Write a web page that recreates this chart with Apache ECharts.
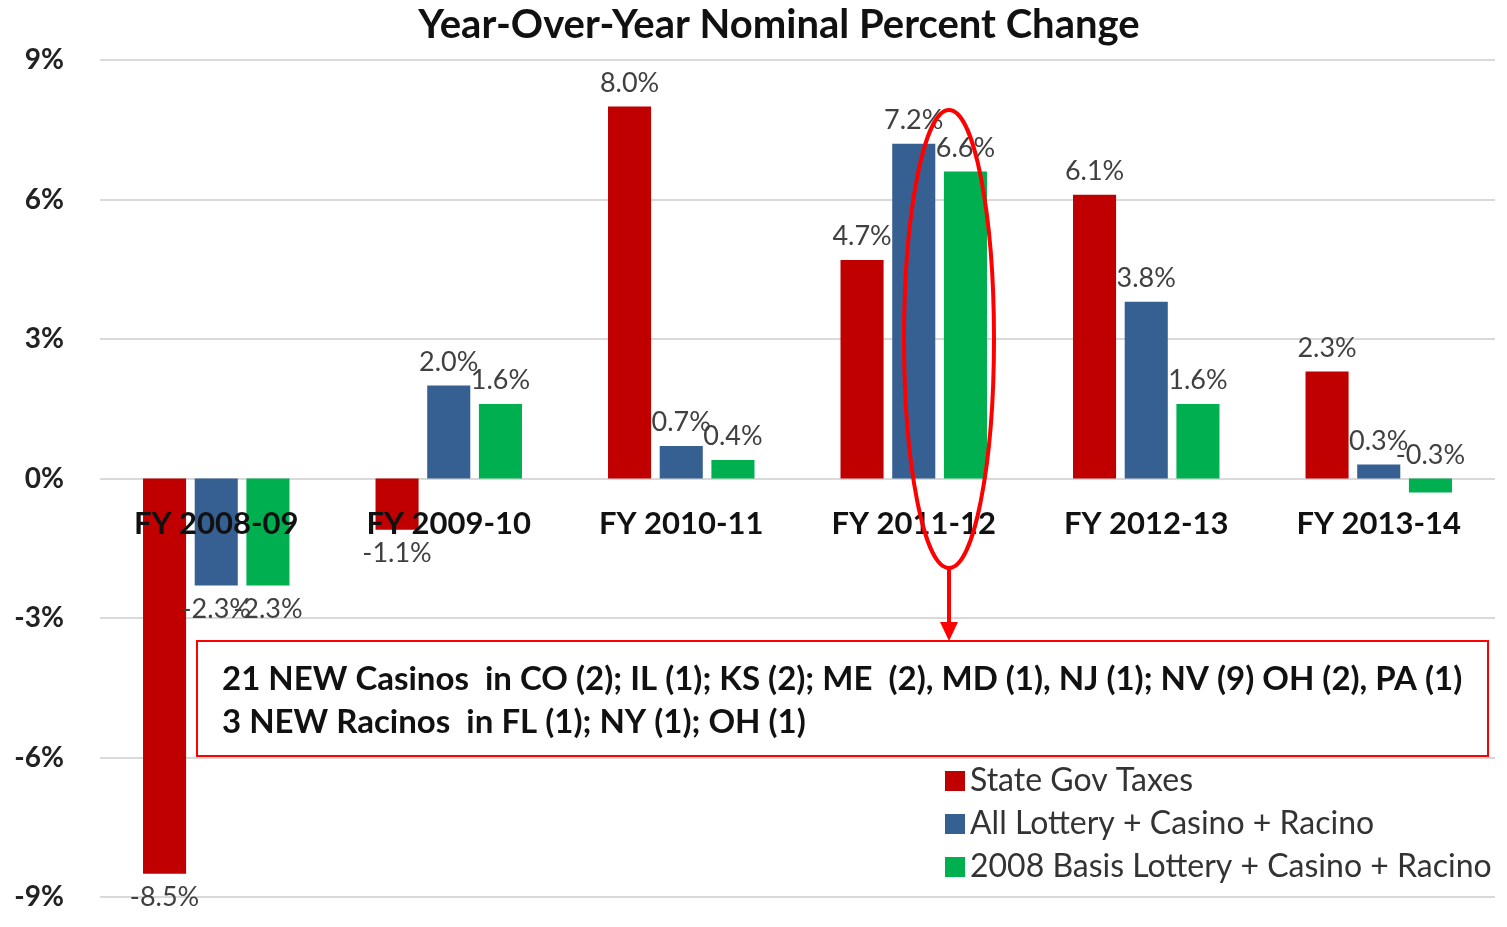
<!DOCTYPE html>
<html>
<head>
<meta charset="utf-8">
<script src="https://cdn.jsdelivr.net/npm/echarts@6/dist/echarts.min.js"></script>
<style>
html, body { margin: 0; padding: 0; background: #fff; }
#main { width: 1507px; height: 927px; }
</style>
</head>
<body>
<div id="main"></div>
<script>
var categories = ['FY 2008-09', 'FY 2009-10', 'FY 2010-11', 'FY 2011-12', 'FY 2012-13', 'FY 2013-14']
var stateTaxes = [-8.5, -1.1, 8.0, 4.7, 6.1, 2.3]
var allGaming = [-2.3, 2.0, 0.7, 7.2, 3.8, 0.3]
var basisGaming = [-2.3, 1.6, 0.4, 6.6, 1.6, -0.3]
var seriesNames = ['State Gov Taxes', 'All Lottery + Casino + Racino', '2008 Basis Lottery + Casino + Racino']
var noteLines = [
	'21 NEW Casinos  in CO (2); IL (1); KS (2); ME  (2), MD (1), NJ (1); NV (9) OH (2), PA (1)',
	'3 NEW Racinos  in FL (1); NY (1); OH (1)'
]

var FONT = 'Lato, "Open Sans", sans-serif'
var myChart = echarts.init(document.getElementById('main'))

function barSeries(name, values, color) {
	return {
		name: name,
		type: 'bar',
		// negative bars get their label underneath, tiny ones stay above the zero line
		data: values.map(function (v) {
			if (v < -0.5) return { value: v, label: { position: 'bottom' } }
			return v
		}),
		barGap: '20%',
		barCategoryGap: '37%',
		itemStyle: { color: color },
		label: {
			show: true,
			position: 'top',
			distance: 10,
			fontFamily: FONT,
			fontSize: 27,
			color: '#404040',
			formatter: function (p) { return Number(p.value).toFixed(1) + '%' }
		}
	}
}

var option = {
	animation: false,
	title: {
		text: 'Year-Over-Year Nominal Percent Change',
		left: 774,
		textAlign: 'center',
		top: 0,
		textStyle: { fontFamily: FONT, fontSize: 40, fontWeight: 'bold', color: '#111' }
	},
	grid: { left: 100, right: 12, top: 60, bottom: 30, containLabel: false, outerBoundsMode: 'none' },
	legend: {
		orient: 'vertical',
		left: 940,
		top: 760,
		itemWidth: 20,
		itemHeight: 20,
		itemGap: 11,
		icon: 'rect',
		textStyle: { fontFamily: FONT, fontSize: 32, lineHeight: 32, color: '#333' },
		data: seriesNames
	},
	xAxis: {
		type: 'category',
		data: categories,
		position: 'bottom',
		// category labels sit just under the 0% line, drawn over the bars
		offset: -419,
		z: 10,
		axisLine: { show: false, onZero: false },
		axisTick: { show: false },
		axisLabel: {
			margin: 30,
			fontFamily: FONT,
			fontSize: 31,
			fontWeight: 'bold',
			color: '#111'
		}
	},
	yAxis: {
		type: 'value',
		min: -9,
		max: 9,
		interval: 3,
		axisLine: { show: false },
		axisTick: { show: false },
		splitLine: { lineStyle: { color: '#d9d9d9', width: 2 } },
		axisLabel: {
			margin: 36,
			fontFamily: FONT,
			fontSize: 28,
			fontWeight: 'bold',
			color: '#222',
			formatter: '{value}%'
		}
	},
	graphic: [
		{
			type: 'ellipse',
			shape: { cx: 949, cy: 339, rx: 45, ry: 229 },
			style: { fill: 'none', stroke: '#FF0000', lineWidth: 4 },
			z: 100
		},
		{
			type: 'line',
			shape: { x1: 949, y1: 568, x2: 949, y2: 626 },
			style: { stroke: '#FF0000', lineWidth: 4 },
			z: 100
		},
		{
			type: 'polygon',
			shape: { points: [[940, 622], [958, 622], [949, 641]] },
			style: { fill: '#FF0000' },
			z: 100
		},
		{
			type: 'rect',
			shape: { x: 197, y: 641, width: 1291, height: 115 },
			style: { fill: '#fff', stroke: '#FF0000', lineWidth: 2 },
			z: 90
		},
		{
			type: 'text',
			left: 222,
			top: 658,
			style: {
				text: noteLines.join('\n'),
				fontFamily: FONT,
				fontSize: 33,
				fontWeight: 'bold',
				lineHeight: 43,
				fill: '#111'
			},
			z: 95
		}
	],
	series: [
		barSeries(seriesNames[0], stateTaxes, '#C00000'),
		barSeries(seriesNames[1], allGaming, '#376092'),
		barSeries(seriesNames[2], basisGaming, '#00B050')
	]
}
myChart.setOption(option)
</script>
</body>
</html>
